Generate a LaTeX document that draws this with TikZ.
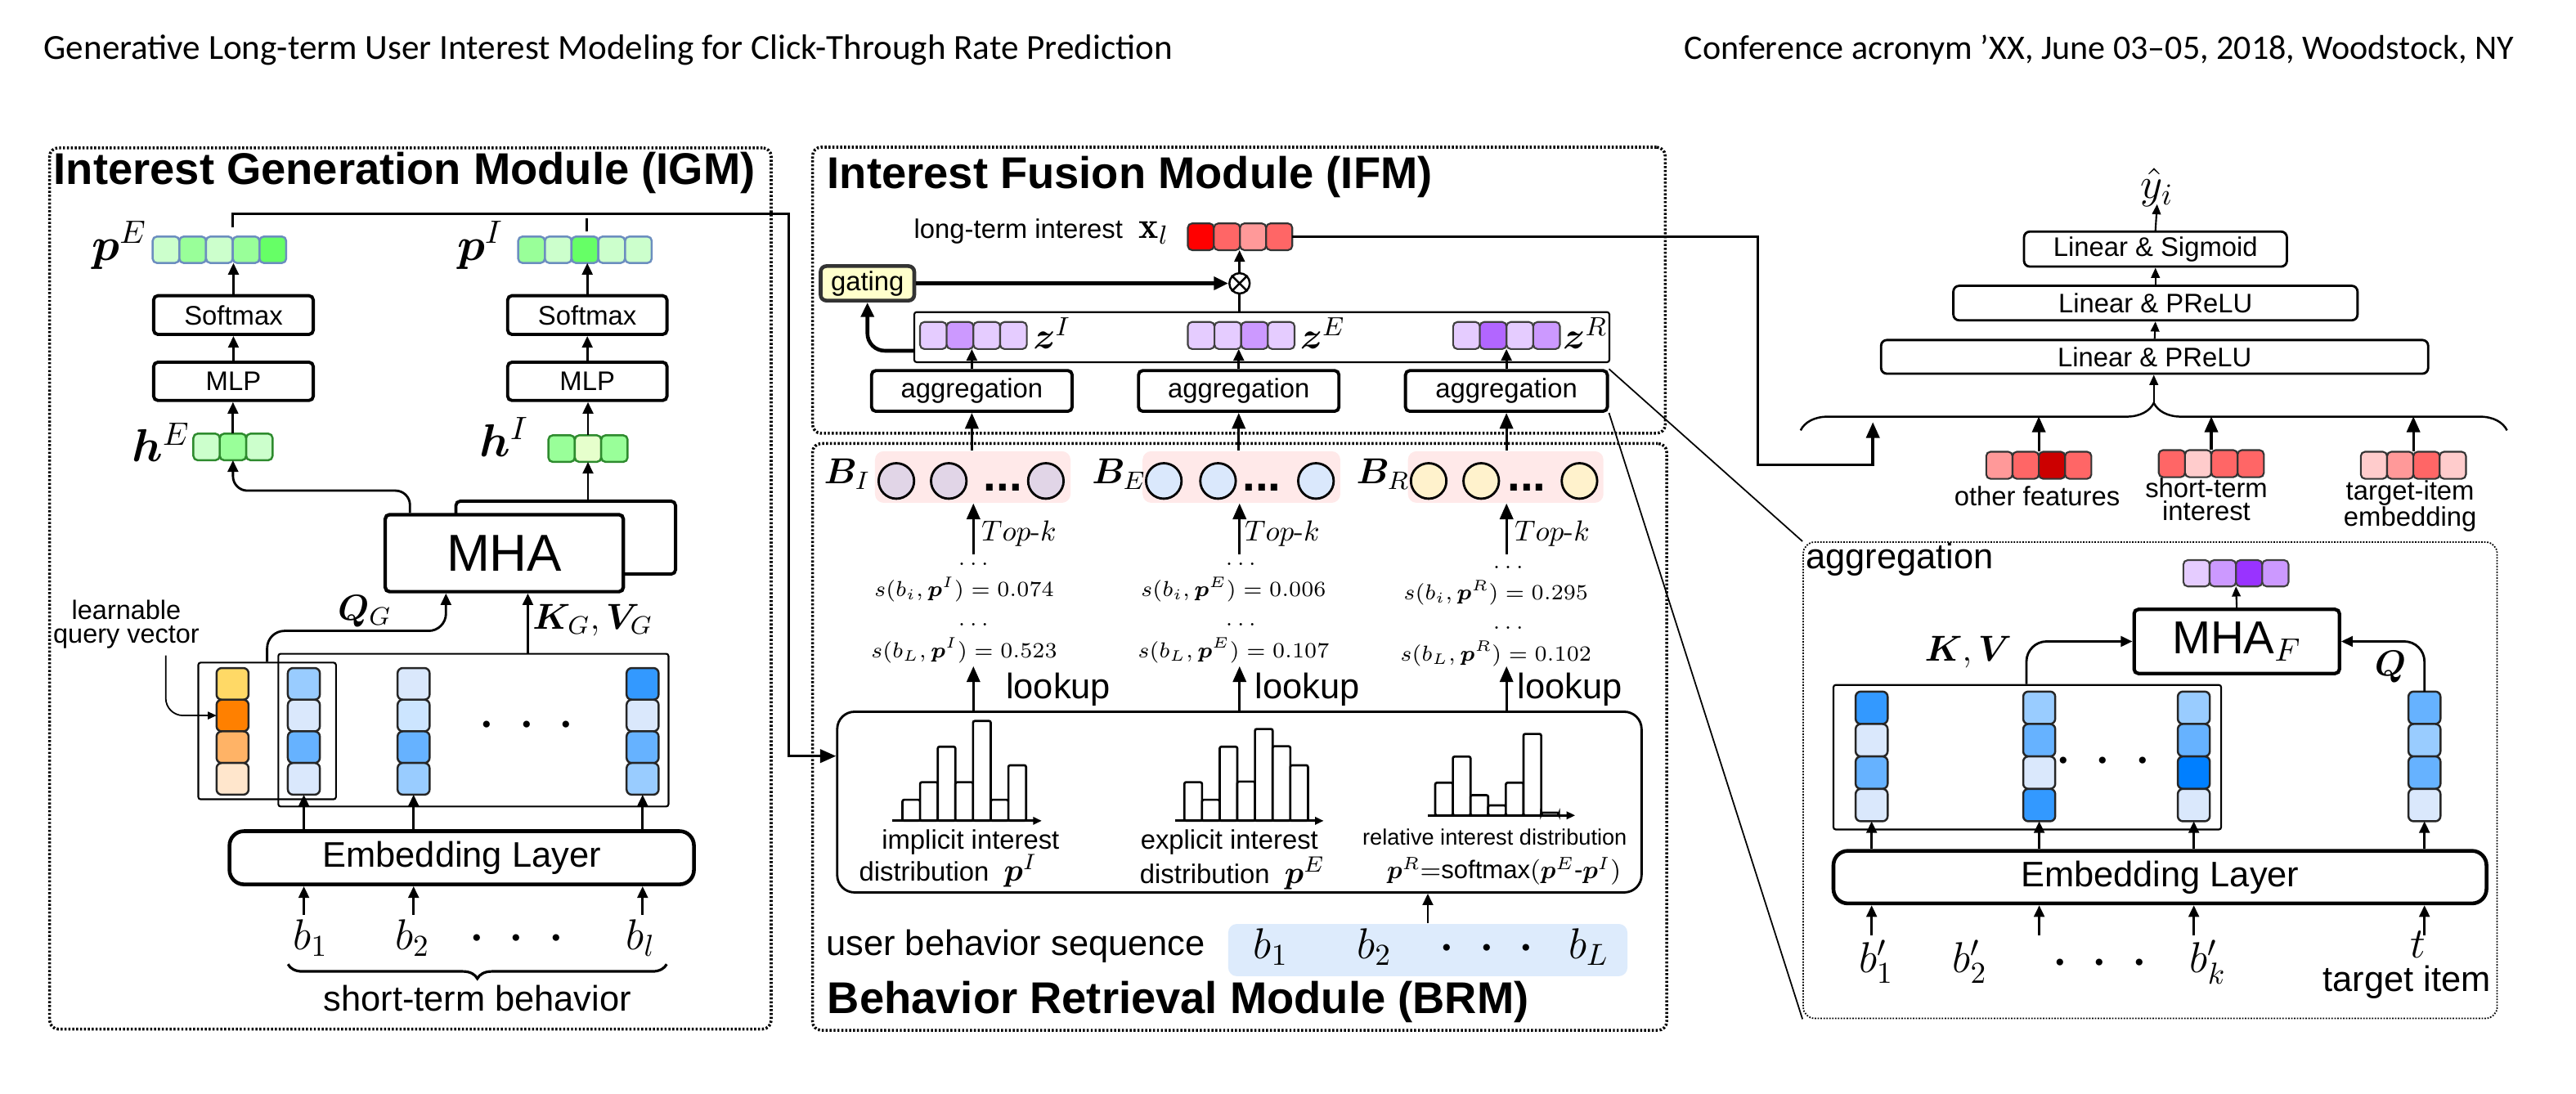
\RequirePackage{fix-cm}
\documentclass[tikz,border=0pt]{standalone}
\usepackage{amsmath}
\usepackage{fontspec}
\usepackage{bm}
\usepackage{graphicx}
\newfontfamily\arial{Liberation Sans}
\newfontfamily\hdrfont{Carlito}
\usetikzlibrary{arrows.meta,calc,decorations.pathreplacing}

\definecolor{gA}{HTML}{CCFFCC}
\definecolor{gB}{HTML}{99FF99}
\definecolor{gC}{HTML}{66FF66}
\definecolor{gD}{HTML}{E6FFCC}
\definecolor{pEdge}{HTML}{6C8EBF}
\definecolor{hEdge}{HTML}{2E8B2E}
\definecolor{bA}{HTML}{DAE8FC}
\definecolor{bB}{HTML}{CCE5FF}
\definecolor{bC}{HTML}{99CCFF}
\definecolor{bD}{HTML}{66B2FF}
\definecolor{bE}{HTML}{3399FF}
\definecolor{bF}{HTML}{007FFF}
\definecolor{oA}{HTML}{FFD966}
\definecolor{oB}{HTML}{FF8000}
\definecolor{oC}{HTML}{FFB366}
\definecolor{oD}{HTML}{FFE6CC}
\definecolor{uA}{HTML}{E5CCFF}
\definecolor{uB}{HTML}{CC99FF}
\definecolor{uC}{HTML}{B266FF}
\definecolor{uD}{HTML}{9933FF}
\definecolor{rA}{HTML}{FFCCCC}
\definecolor{rB}{HTML}{FF9999}
\definecolor{rC}{HTML}{FF6666}
\definecolor{rD}{HTML}{CC0000}
\definecolor{rE}{HTML}{FF0000}
\definecolor{cI}{HTML}{E1D5E7}
\definecolor{cE}{HTML}{DAE8FC}
\definecolor{cR}{HTML}{FFF2CC}
\definecolor{pinkBg}{HTML}{FFE9E9}
\definecolor{seqBlue}{HTML}{DDEBFC}
\definecolor{gateY}{HTML}{FFFFCC}

\newcommand\fsz[2]{\fontsize{#1}{#2}\selectfont}
\newcommand\bigdots{{\fontsize{22}{24}\selectfont$\cdotp\kern4pt\cdotp\kern4pt\cdotp$}}

% box node given by its corners (x1,y1) (x2,y2)
\newcommand\bnode[7]{\node[#1, inner sep=0pt, minimum width={(#5-#3)*0.02cm}, minimum height={(#6-#4)*0.02cm}] (#2) at ({(#3+#5)/2},{(#4+#6)/2}) {#7};}

% row / column of embedding cells: name, x left, y top, cell w, cell h, count, cell style, colours
\newcommand\hstrip[8]{%
  \foreach \fillc [count=\ii from 0] in {#8}{\path[#7, fill=\fillc] ({#2+\ii*#4},#3) rectangle ++(#4,#5);}%
  \node[inner sep=0pt, outer sep=0pt, minimum width={#6*#4*0.02cm}, minimum height={#5*0.02cm}, anchor=north west] (#1) at (#2,#3) {};}
\newcommand\vstrip[8]{%
  \foreach \fillc [count=\ii from 0] in {#8}{\path[#7, fill=\fillc] (#2,{#3+\ii*#5}) rectangle ++(#4,#5);}%
  \node[inner sep=0pt, outer sep=0pt, minimum width={#4*0.02cm}, minimum height={#6*#5*0.02cm}, anchor=north west] (#1) at (#2,#3) {};}

\begin{document}
\begin{tikzpicture}[x=0.02cm,y=-0.02cm,
  modbox/.style={draw, line width=1pt, dash pattern=on 0.7pt off 0.65pt, rounded corners=3pt},
  zoomframe/.style={draw, line width=0.5pt, dash pattern=on 0.5pt off 0.5pt, rounded corners=4pt},
  title/.style={font=\arial\bfseries\fsz{15.4}{18}, inner sep=0pt},
  opbox/.style={draw, line width=1.1pt, rounded corners=1.5pt, fill=white, font=\arial\fsz{9.3}{11}},
  thinop/.style={draw, line width=0.8pt, rounded corners=2pt, fill=white, font=\arial\fsz{9.3}{11}},
  mhabox/.style={draw, line width=1.2pt, rounded corners=1.5pt, fill=white, font=\arial\fsz{18}{20}},
  mhafbox/.style={draw, line width=1.2pt, rounded corners=1.5pt, fill=white, font=\arial\fsz{16}{18}},
  embbox/.style={draw, line width=1.3pt, rounded corners=5pt, fill=white, font=\arial\fsz{12.3}{14}},
  thinbox/.style={draw, line width=0.6pt, rounded corners=0.8pt},
  gatebox/.style={draw=black!80, line width=1.3pt, rounded corners=2pt, fill=gateY, font=\arial\fsz{9.3}{11}},
  histframe/.style={draw, line width=0.8pt, rounded corners=6pt},
  pinkbg/.style={fill=pinkBg, rounded corners=3pt},
  seqbg/.style={fill=seqBlue, rounded corners=3pt},
  circ/.style={circle, draw, line width=0.8pt, minimum size=0.432cm, inner sep=0pt},
  otimes/.style={circle, draw, line width=0.7pt, minimum size=0.248cm, inner sep=0pt, fill=white},
  histbar/.style={draw, line width=0.75pt, fill=white, rounded corners=0.6pt},
  histaxis/.style={line width=0.8pt, -{Triangle[length=3pt,width=2.6pt]}},
  pcell/.style={draw=pEdge, line width=0.7pt, rounded corners=1.5pt},
  hcell/.style={draw=hEdge, line width=0.7pt, rounded corners=1.5pt},
  bcell/.style={draw=black!85, line width=0.7pt, rounded corners=1.8pt},
  zcell/.style={draw=black!75, line width=0.6pt, rounded corners=1.5pt},
  rcell/.style={draw=black!80, line width=0.6pt, rounded corners=1.5pt},
  smalltxt/.style={font=\arial\fsz{9.3}{10}, inner sep=0pt},
  tinytxt/.style={font=\arial\fsz{7.7}{9}, inner sep=0pt},
  txt12/.style={font=\arial\fsz{12.3}{14}, inner sep=0pt},
  lbl16/.style={font=\fsz{16}{18}, inner sep=0pt},
  lbl13/.style={font=\fsz{13}{15}, inner sep=0pt},
  mathlbl/.style={font=\fsz{12.5}{14}, inner sep=0pt},
  stxt/.style={font=\fsz{7.5}{9}, inner sep=0pt},
  topk/.style={font=\fsz{10}{12}, inner sep=0pt},
  bmath/.style={font=\fsz{15}{17}, inner sep=0pt},
  bdots/.style={font=\arial\bfseries\fsz{16}{18}, inner sep=0pt},
  bigdotnode/.style={inner sep=0pt},
  arr/.style={line width=0.8pt, -{Triangle[length=4pt,width=3.6pt]}},
  arrbig/.style={line width=0.9pt, -{Triangle[length=5.5pt,width=4.6pt]}},
  arrsm/.style={line width=0.6pt, -{Triangle[length=3.5pt,width=3pt]}},
  arrthin/.style={line width=0.5pt, -{Triangle[length=3pt,width=2.6pt]}},
  arrthick/.style={line width=1.3pt, -{Triangle[length=5pt,width=4.4pt]}},
  bracedeco/.style={decorate, decoration={brace, amplitude=#1}},
]
\path[fill=white, use as bounding box] (0,0) rectangle (1568,666);

% ---------- running header ----------
\node[anchor=base west, inner sep=0pt] (hdrL) at (26.4,36.2) {\resizebox{13.74cm}{!}{\hdrfont Generative Long-term User Interest Modeling for Click-Through Rate Prediction}};
\node[anchor=base east, inner sep=0pt] (hdrR) at (1530.6,36.2) {\resizebox{10.1cm}{!}{\hdrfont Conference acronym ’XX, June 03–05, 2018, Woodstock, NY}};

% ================= Interest Generation Module =================
\bnode{modbox}{igm}{30.2}{90}{469.4}{626.5}{}
\node[title, anchor=base west] (igmT) at (32.4,112) {Interest Generation Module (IGM)};

\hstrip{pE}{92.9}{144}{16.26}{16.1}{5}{pcell}{gA,gB,gA,gB,gC}
\hstrip{pI}{315.4}{144}{16.26}{16.1}{5}{pcell}{gB,gA,gC,gA,gA}
\node[lbl16, anchor=base west] (pEl) at (55.6,158.5) {$\bm{p}^{E}$};
\node[lbl16, anchor=base west] (pIl) at (278,158.5) {$\bm{p}^{I}$};

\bnode{opbox}{smE}{93.5}{180}{190.7}{203.6}{Softmax}
\bnode{opbox}{mlpE}{93.5}{220.5}{190.7}{243.8}{MLP}
\bnode{opbox}{smI}{309}{180}{406}{203.6}{Softmax}
\bnode{opbox}{mlpI}{309}{220.5}{406}{243.8}{MLP}

\hstrip{hE}{117.7}{264}{16.07}{16.2}{3}{hcell}{gA,gB,gA}
\hstrip{hI}{333.8}{265}{16.07}{16.2}{3}{hcell}{gB,gD,gB}
\node[lbl16, anchor=base west] (hEl) at (80,281) {$\bm{h}^{E}$};
\node[lbl16, anchor=base west] (hIl) at (291.5,278) {$\bm{h}^{I}$};

\draw[arr] (mlpE.north) -- (smE.south);
\draw[arr] (smE.north) -- (smE.north |- pE.south);
\draw[arr] (hE.north) -- (hE.north |- mlpE.south);
\draw[arr] (mlpI.north) -- (smI.south);
\draw[arr] (smI.north) -- (smI.north |- pI.south);
\draw[arr] (hI.north) -- (hI.north |- mlpI.south);

% distributions handed over to the retrieval module
\coordinate (pEtap) at ($(pE.north)+(8.1,-5.5)$);
\coordinate (igmOut) at (480,130.2);
\draw[line width=0.8pt] ($(pI.north)+(1.2,-3)$) -- ($(pI.north)+(1.2,-11.3)$);

% multi-head attention
\bnode{opbox}{mhaB}{277.5}{305.1}{411.2}{349.5}{}
\bnode{mhabox}{mha}{234.5}{313.3}{379.4}{360.2}{MHA}
\draw[arr, rounded corners=5pt] ($(mha.north west)+(16.1,0)$) |- ($(hE.south)+(0,18.5)$) -- (hE.south);
\draw[arr] (mhaB.north -| hI.south) -- (hI.south);

\bnode{thinbox}{qbox}{120.7}{403.4}{204.5}{486.6}{}
\bnode{thinbox}{kvbox}{169.4}{398}{406.9}{491}{}
\vstrip{qv}{131.8}{406.7}{19.5}{19.27}{4}{bcell}{oA,oB,oC,oD}
\vstrip{c1}{175.2}{406.7}{19.5}{19.27}{4}{bcell}{bC,bA,bD,bA}
\vstrip{c2}{242}{406.7}{19.5}{19.27}{4}{bcell}{bA,bB,bD,bC}
\vstrip{c3}{381.4}{406.7}{19.5}{19.27}{4}{bcell}{bE,bA,bD,bC}
\node[bigdotnode] (kvdots) at (320.7,442.3) {\bigdots};

\draw[arr, rounded corners=6pt] (qbox.north) -- ++(0,-18.8) -| ($(mha.south west)+(38,0)$);
\node[mathlbl] (QG) at (222,372) {$\bm{Q}_G$};
\coordinate (kgx) at (321.3,0);
\draw[arr] (kvbox.north -| kgx) -- (kgx |- mha.south);
\node[mathlbl] (KG) at (360.8,377.5) {$\bm{K}_G,\bm{V}_G$};

\node[smalltxt, align=center, font=\arial\fsz{9.2}{8.1}] (learn) at (76.9,380) {learnable\\query vector};
\draw[arrthin, rounded corners=6pt] ($(learn.south)+(24,4)$) |- ($(qv.north west)+(0,28.9)$);

\bnode{embbox}{emb}{139.7}{506}{422.4}{538.4}{Embedding Layer}
\foreach \cn in {c1,c2,c3} \draw[arr] (emb.north -| \cn.south) -- (\cn.south);

\node[bmath, anchor=base] (b1) at (189,578.2) {$b_1$};
\node[bmath, anchor=base] (b2) at (251,578.2) {$b_2$};
\node[bigdotnode] (bdt) at (314.4,572) {\bigdots};
\node[bmath, anchor=base] (bl) at (390,578.2) {$b_l$};
\coordinate (bTop) at (0,556.8);
\draw[arr] (c1.south |- bTop) -- (c1.south |- emb.south);
\draw[arr] (c2.south |- bTop) -- (c2.south |- emb.south);
\draw[arr] (c3.south |- bTop) -- (c3.south |- emb.south);
\coordinate (stbR) at (405.8,587);
\coordinate (stbL) at (175.3,587);
\draw[bracedeco=5pt, line width=0.9pt] (stbR) -- (stbL);
\node[txt12] (stb) at (290.6,608) {short-term behavior};

% ================= Interest Fusion Module =================
\bnode{modbox}{ifm}{494.6}{89.6}{1013.6}{263.8}{}
\node[title, anchor=base west] (ifmT) at (503.3,114.5) {Interest Fusion Module (IFM)};
\node[smalltxt, anchor=base west] (lti) at (556,145.2) {long-term interest};
\node[lbl13, anchor=base west] (xll) at (693,145.2) {$\mathbf{x}_l$};
\hstrip{xl}{723}{136}{15.9}{16.3}{4}{rcell}{rE,rC,rB,rC}
\node[otimes] (ot) at (754.5,172.5) {};
\draw[line width=0.7pt] (ot.45) -- (ot.225) (ot.135) -- (ot.315);
\bnode{gatebox}{gate}{499.5}{162}{556.5}{183}{gating}
\bnode{thinbox}{zbox}{556.5}{190}{979.6}{220.5}{}
\hstrip{zI}{560}{196}{16.25}{16.5}{4}{zcell}{uA,uB,uA,uA}
\hstrip{zE}{723}{196}{16.25}{16.5}{4}{zcell}{uA,uA,uB,uA}
\hstrip{zR}{884.5}{196}{16.25}{16.5}{4}{zcell}{uA,uC,uA,uB}
\node[lbl13, anchor=base west] (zIl) at (628.5,212.4) {$\bm{z}^{I}$};
\node[lbl13, anchor=base west] (zEl) at (791,212.4) {$\bm{z}^{E}$};
\node[lbl13, anchor=base west] (zRl) at (951,212.4) {$\bm{z}^{R}$};
\bnode{opbox}{ag1}{530.5}{225.6}{652.6}{250.4}{aggregation}
\bnode{opbox}{ag2}{693}{225.6}{815}{250.4}{aggregation}
\bnode{opbox}{ag3}{855.5}{225.6}{978.4}{250.4}{aggregation}
\draw[arr] (ag1.north) -- (ag1.north |- zI.south);
\draw[arr] (ag2.north) -- (ag2.north |- zE.south);
\draw[arr] (ag3.north) -- (ag3.north |- zR.south);
\draw[line width=0.8pt] (zbox.north -| ot.south) -- (ot.south);
\draw[arr] (ot.north) -- (ot.north |- xl.south);
\draw[arrthick] (gate.east) -- (ot.west);
\draw[arrthick, rounded corners=6pt] ($(zbox.south west)+(0,-7.5)$) -| (gate.south);

% ================= Behavior Retrieval Module =================
\bnode{modbox}{brm}{494.6}{270}{1014.5}{627.2}{}
\node[title, anchor=base west] (brmT) at (503.3,617) {Behavior Retrieval Module (BRM)};

\bnode{pinkbg}{g1}{532.6}{274.7}{651.6}{306.1}{}
\bnode{pinkbg}{g2}{695.5}{274.7}{815.8}{306.1}{}
\bnode{pinkbg}{g3}{857}{274.7}{976}{306.1}{}
\node[circ, fill=cI] (g1a) at (545.6,292.8) {};
\node[circ, fill=cI] (g1b) at (577.5,292.8) {};
\node[circ, fill=cI] (g1c) at (636.6,292.8) {};
\node[circ, fill=cE] (g2a) at (708.4,292.8) {};
\node[circ, fill=cE] (g2b) at (741.4,292.8) {};
\node[circ, fill=cE] (g2c) at (801,292.8) {};
\node[circ, fill=cR] (g3a) at (869.6,292.8) {};
\node[circ, fill=cR] (g3b) at (901.6,292.8) {};
\node[circ, fill=cR] (g3c) at (961.4,292.8) {};
\node[bdots, anchor=base] (g1d) at (610.5,299) {...};
\node[bdots, anchor=base] (g2d) at (768,299) {...};
\node[bdots, anchor=base] (g3d) at (929.3,299) {...};
\node[mathlbl, anchor=base west] (BIl) at (501.2,294.5) {$\bm{B}_I$};
\node[mathlbl, anchor=base west] (BEl) at (664.4,294.5) {$\bm{B}_E$};
\node[mathlbl, anchor=base west] (BRl) at (825.3,294.5) {$\bm{B}_R$};
\draw[arrbig] (g1.north -| ag1.south) -- (ag1.south);
\draw[arrbig] (g2.north -| ag2.south) -- (ag2.south);
\draw[arrbig] (g3.north -| ag3.south) -- (ag3.south);

\coordinate (k1) at (592.5,0);
\coordinate (k2) at (754.5,0);
\coordinate (k3) at (917,0);
\coordinate (tkBot) at (0,337.5);
\draw[arrbig] (k1 |- tkBot) -- (k1 |- g1.south);
\draw[arrbig] (k2 |- tkBot) -- (k2 |- g2.south);
\draw[arrbig] (k3 |- tkBot) -- (k3 |- g3.south);
\node[topk, anchor=west] (tk1) at (597,325) {$Top$\textrm{-}$k$};
\node[topk, anchor=west] (tk2) at (757.3,325) {$Top$\textrm{-}$k$};
\node[topk, anchor=west] (tk3) at (921.6,325) {$Top$\textrm{-}$k$};

\node[stxt, anchor=base] (e1a) at (592.5,344) {$\ldots$};
\node[stxt, anchor=base] (e2a) at (755.3,344) {$\ldots$};
\node[stxt, anchor=base] (e3a) at (918,346) {$\ldots$};
\node[stxt] (sa1) at (586.8,359) {$s(b_i,\bm{p}^I)=0.074$};
\node[stxt] (sa2) at (750.8,359) {$s(b_i,\bm{p}^E)=0.006$};
\node[stxt] (sa3) at (910.5,361) {$s(b_i,\bm{p}^R)=0.295$};
\node[stxt, anchor=base] (e1b) at (592.5,381) {$\ldots$};
\node[stxt, anchor=base] (e2b) at (755.3,381) {$\ldots$};
\node[stxt, anchor=base] (e3b) at (918,383) {$\ldots$};
\node[stxt] (sb1) at (586.8,396) {$s(b_L,\bm{p}^I)=0.523$};
\node[stxt] (sb2) at (750.8,396) {$s(b_L,\bm{p}^E)=0.107$};
\node[stxt] (sb3) at (910.5,398) {$s(b_L,\bm{p}^R)=0.102$};

\bnode{histframe}{hist}{509.6}{433.3}{999.2}{543.3}{}
\coordinate (lkTop) at (0,405.6);
\draw[arrbig] (hist.north -| k1) -- (k1 |- lkTop);
\draw[arrbig] (hist.north -| k2) -- (k2 |- lkTop);
\draw[arrbig] (hist.north -| k3) -- (k3 |- lkTop);
\node[txt12, anchor=west] (lk1) at (612,420) {lookup};
\node[txt12, anchor=west] (lk2) at (763.7,420) {lookup};
\node[txt12, anchor=west] (lk3) at (923.5,420) {lookup};

% p^E and p^I feed the histograms
\draw[arrbig] (pEtap) |- (igmOut) |- ($(hist.north west)+(0,27.7)$);

% histograms
\foreach \h [count=\i from 0] in {12.8,23.5,45.1,23.5,60.8,12.8,33.8}
  \draw[histbar] ({549.3+\i*10.75},499.7) rectangle ++(10.75,-\h);
\draw[histaxis] (543.3,499.7) -- (634.1,499.7);
\foreach \h [count=\i from 0] in {23.5,12.8,45.1,23.9,55.9,45.4,33.8}
  \draw[histbar] ({720.9+\i*10.75},499.7) rectangle ++(10.75,-\h);
\draw[histaxis] (715.5,499.7) -- (805.7,499.7);
\foreach \h [count=\i from 0] in {19.9,35.8,12.3,6.1,19.9,49.6,1.7}
  \draw[histbar] ({873.6+\i*10.75},496.4) rectangle ++(10.75,-\h);
\draw[histaxis] (869,496.4) -- (958.8,496.4);

\node[smalltxt] (h1a) at (590.8,512.5) {implicit interest};
\node[smalltxt] (h1b) at (577.2,530) {distribution\ \ {\fsz{11}{12}$\bm{p}^{I}$}};
\node[smalltxt] (h2a) at (748.3,512.5) {explicit interest};
\node[smalltxt] (h2b) at (750.2,531.5) {distribution\ \ {\fsz{11}{12}$\bm{p}^{E}$}};
\node[tinytxt] (h3a) at (909.8,509.5) {relative interest distribution};
\node[tinytxt, font=\arial\fsz{8.8}{10}] (h3b) at (915.5,530.5) {$\bm{p}^R{=}\text{softmax}(\bm{p}^E\text{-}\bm{p}^I)$};

\node[txt12, anchor=base west] (ubs) at (502.6,581.5) {user behavior sequence};
\bnode{seqbg}{seq}{747.6}{562.5}{990.6}{594.3}{}
\node[bmath, anchor=base] (s1) at (773.5,583.5) {$b_1$};
\node[bmath, anchor=base] (s2) at (836.5,583.5) {$b_2$};
\node[bigdotnode] (sdt) at (905,578) {\bigdots};
\node[bmath, anchor=base] (sL) at (967,583.5) {$b_L$};
\draw[arr] (seq.north) -- (hist.south -| seq.north);

% ================= prediction tower =================
\coordinate (rc1) at (1070,283);
\coordinate (predIn) at (1140,257);
\draw[arrbig, line width=1pt] (xl.east) -| (rc1) -| (predIn);

\node[font=\fsz{15}{17}, inner sep=0pt] (yhat) at (1313,114) {$\hat{y}_i$};
\bnode{thinop}{sig}{1232}{141}{1392}{162.3}{Linear \& Sigmoid}
\bnode{thinop}{pr2}{1189}{174}{1435}{195}{Linear \& PReLU}
\bnode{thinop}{pr1}{1145}{207}{1478}{227.5}{Linear \& PReLU}
\draw[arrsm] (sig.north) -- ([yshift=1pt]yhat.south);
\draw[arrsm] (pr2.north) -- (sig.south);
\draw[arrsm] (pr1.north) -- (pr2.south);
\coordinate (brA) at (1096,262);
\coordinate (brB) at (1526,262);
\coordinate (brTip) at (1311,245);
\coordinate (brLine) at (0,253.5);
\draw[bracedeco=9.5pt, line width=0.7pt] (brA) -- (brB);
\draw[arrsm] (brTip) -- (brTip |- pr1.south);

\hstrip{of}{1209}{275}{16}{16.5}{4}{rcell}{rB,rC,rD,rC}
\hstrip{st}{1314}{274}{16}{16.5}{4}{rcell}{rC,rA,rC,rC}
\hstrip{ti}{1437}{275}{16}{16.5}{4}{rcell}{rA,rB,rC,rA}
\draw[arrbig] (of.north) -- (of.north |- brLine);
\draw[arrbig] (st.north) -- (st.north |- brLine);
\draw[arrbig] (ti.north) -- (ti.north |- brLine);
\node[smalltxt] (ofl) at (1240,302) {other features};
\node[smalltxt, align=center, font=\arial\fsz{9.3}{8}] (stl) at (1343,304) {short-term\\interest};
\node[smalltxt, align=center, font=\arial\fsz{9.3}{9.1}] (til) at (1467,308) {target-item\\embedding};

% ================= aggregation detail =================
\bnode{zoomframe}{agz}{1097.6}{330}{1520}{620}{}
\draw[line width=0.5pt] (ag3.north east) -- (agz.north west);
\draw[line width=0.5pt] (ag3.south east) -- (agz.south west);
\node[txt12, anchor=base west] (agl) at (1099,346) {aggregation};
\hstrip{ov}{1329}{341}{16}{16}{4}{zcell}{uA,uB,uD,uB}
\bnode{mhafbox}{mhaf}{1299}{371}{1424}{410}{MHA$_F$}
\draw[arrsm] (mhaf.north) -- (ov.south);
\bnode{thinbox}{kv2}{1116}{417}{1352}{505}{}
\vstrip{d1}{1129.5}{421}{19.5}{19.75}{4}{bcell}{bE,bA,bD,bA}
\vstrip{d2}{1231.5}{421}{19.5}{19.75}{4}{bcell}{bC,bD,bA,bE}
\vstrip{d3}{1325.6}{421}{19.5}{19.75}{4}{bcell}{bC,bD,bF,bA}
\vstrip{tv}{1466}{421}{19.5}{19.75}{4}{bcell}{bD,bC,bD,bA}
\node[bigdotnode] (kvd2) at (1280,464) {\bigdots};
\draw[arr, rounded corners=7pt] ($(kv2.north west)+(118,0)$) |- (mhaf.west);
\draw[arr, rounded corners=7pt] (tv.north) |- (mhaf.east);
\node[mathlbl] (KVl) at (1198,397) {$\bm{K},\bm{V}$};
\node[mathlbl] (Ql) at (1455,406) {$\bm{Q}$};
\bnode{embbox}{emb2}{1116}{518}{1513.5}{550}{Embedding Layer}
\foreach \cn in {d1,d2,d3,tv} \draw[arr] (emb2.north -| \cn.south) -- (\cn.south);
\node[bmath, anchor=base] (bp1) at (1142,592) {$b'_1$};
\node[bmath, anchor=base] (bp2) at (1199,592) {$b'_2$};
\node[bigdotnode] (bpd) at (1278,587) {\bigdots};
\node[bmath, anchor=base] (bpk) at (1344,592) {$b'_k$};
\node[bmath, anchor=base] (tt) at (1472,583.3) {$t$};
\node[txt12] (tgl) at (1465,598) {target item};
\coordinate (bpTop) at (0,569.5);
\foreach \cn in {d1,d2,d3,tv} \draw[arr] (\cn.south |- bpTop) -- (\cn.south |- emb2.south);
\end{tikzpicture}
\end{document}
